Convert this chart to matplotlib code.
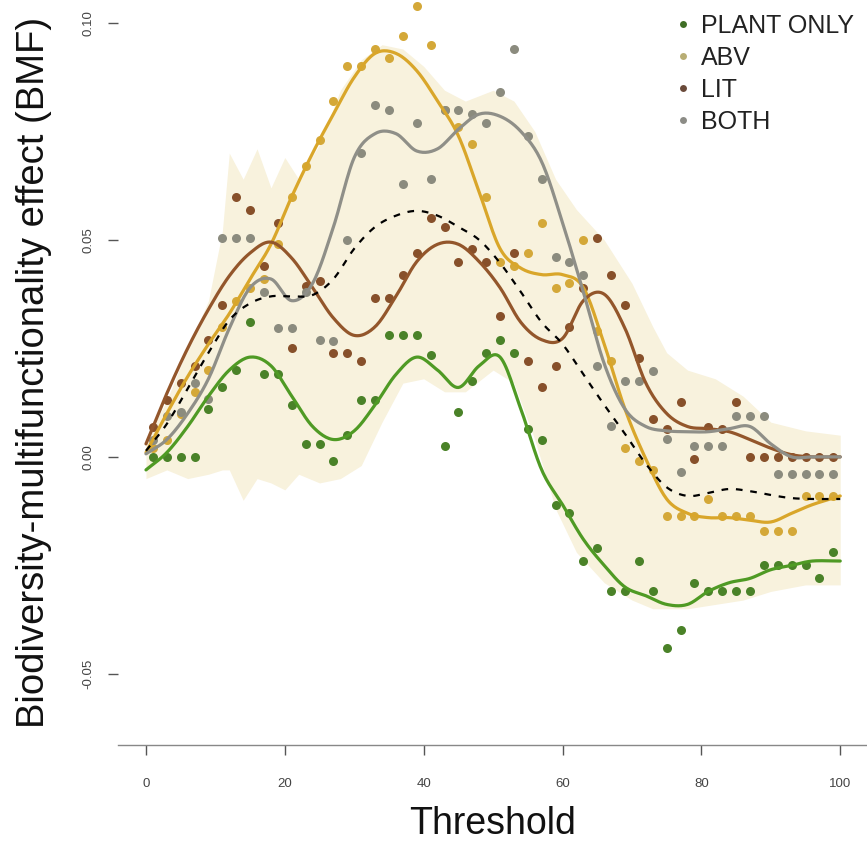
import numpy as np
import matplotlib
matplotlib.use("Agg")
import matplotlib.pyplot as plt
from matplotlib.lines import Line2D

plt.rcParams['font.family'] = ['Liberation Sans', 'DejaVu Sans']

# ---- observed points (threshold 1..99, every 2) ----
thr = np.arange(1, 100, 2)
plant_pts = [0.000, 0.000, 0.000, 0.000, 0.011, 0.016, 0.020, 0.031, 0.019, 0.019,
             0.012, 0.003, 0.003, -0.001, 0.005, 0.013, 0.013, 0.028, 0.028, 0.028,
             0.0235, 0.0025, 0.0104, 0.0174, 0.024, 0.027, 0.024, 0.0065, 0.004, -0.011,
             -0.013, -0.024, -0.021, -0.031, -0.031, -0.024, -0.031, -0.044, -0.040, -0.029,
             -0.031, -0.031, -0.031, -0.031, -0.025, -0.025, -0.025, -0.025, -0.028, -0.022]
abv_pts = [0.002, 0.004, 0.010, 0.015, 0.020, 0.030, 0.036, 0.039, 0.041, 0.049,
           0.060, 0.067, 0.073, 0.082, 0.090, 0.090, 0.094, 0.092, 0.097, 0.104,
           0.095, 0.080, 0.076, 0.072, 0.060, 0.045, 0.044, 0.047, 0.054, 0.039,
           0.040, 0.050, 0.029, 0.022, 0.002, -0.001, -0.003, -0.0137, -0.0137, -0.0137,
           -0.0097, -0.0137, -0.0137, -0.0137, -0.017, -0.017, -0.017, -0.009, -0.009, -0.009]
lit_pts = [0.007, 0.013, 0.017, 0.021, 0.027, 0.035, 0.060, 0.057, 0.044, 0.054,
           0.025, 0.0395, 0.0405, 0.024, 0.024, 0.022, 0.0366, 0.0366, 0.042, 0.047,
           0.055, 0.053, 0.045, 0.048, 0.045, 0.0324, 0.047, 0.022, 0.016, 0.021,
           0.030, 0.039, 0.0505, 0.042, 0.035, 0.0227, 0.0088, 0.0065, 0.0127, -0.0005,
           0.007, 0.0065, 0.0127, 0.000, 0.000, 0.000, 0.000, 0.000, 0.000, 0.000]
both_pts = [0.004, 0.0095, 0.0104, 0.017, 0.0134, 0.0505, 0.0505, 0.0505, 0.038, 0.0296,
            0.0296, 0.038, 0.027, 0.0266, 0.050, 0.070, 0.081, 0.080, 0.063, 0.077,
            0.064, 0.080, 0.080, 0.079, 0.077, 0.084, 0.094, 0.074, 0.064, 0.046,
            0.045, 0.042, 0.021, 0.0072, 0.0174, 0.0174, 0.0197, 0.0042, -0.0035, 0.0025,
            0.0025, 0.0025, 0.0095, 0.0095, 0.0095, -0.004, -0.004, -0.004, -0.004, -0.004]

# ---- fitted curves, read at every 3 units ----
x_fit = list(range(0, 99, 3)) + [100]
plant_fit = [-0.003, 0.001, 0.007, 0.014, 0.020, 0.023, 0.021, 0.014, 0.007, 0.004,
             0.006, 0.012, 0.019, 0.023, 0.020, 0.016, 0.021, 0.023, 0.011, -0.003,
             -0.011, -0.019, -0.025, -0.030, -0.032, -0.034, -0.034, -0.031, -0.029, -0.028,
             -0.026, -0.025, -0.024, -0.024]
abv_fit = [0.001, 0.010, 0.0185, 0.026, 0.033, 0.041, 0.049, 0.060, 0.070, 0.079,
           0.0875, 0.093, 0.093, 0.089, 0.082, 0.074, 0.061, 0.048, 0.0435, 0.042,
           0.042, 0.039, 0.026, 0.011, -0.0005, -0.0097, -0.013, -0.014, -0.014, -0.0146,
           -0.015, -0.013, -0.011, -0.009]
lit_fit = [0.003, 0.0146, 0.025, 0.034, 0.0417, 0.047, 0.0495, 0.0458, 0.039, 0.032,
           0.028, 0.030, 0.037, 0.045, 0.049, 0.049, 0.045, 0.039, 0.031, 0.027,
           0.0273, 0.036, 0.0375, 0.0296, 0.017, 0.010, 0.007, 0.0065, 0.0058, 0.004,
           0.002, 0.0005, 0.000, 0.000]
both_fit = [0.0007, 0.004, 0.010, 0.018, 0.0296, 0.039, 0.041, 0.036, 0.040, 0.053,
            0.069, 0.0745, 0.0745, 0.0705, 0.071, 0.0755, 0.079, 0.0785, 0.075, 0.068,
            0.054, 0.038, 0.0215, 0.011, 0.007, 0.006, 0.0058, 0.0058, 0.0065, 0.007,
            0.003, 0.000, 0.000, 0.000]
mean_fit = [0.0014, 0.0076, 0.0157, 0.024, 0.0315, 0.0354, 0.037, 0.037, 0.0373, 0.041,
            0.048, 0.053, 0.0556, 0.0567, 0.0556, 0.053, 0.050, 0.0447, 0.038, 0.031,
            0.026, 0.019, 0.012, 0.0053, -0.0016, -0.007, -0.009, -0.0083, -0.0074, -0.0079,
            -0.0088, -0.0095, -0.0097, -0.0097]

# ---- shaded envelope ----
band_x = [0, 3, 6, 9, 11, 12, 14, 16, 18, 20, 22, 25, 28, 31, 34, 37, 40, 43, 46, 50,
          53, 56, 59, 62, 66, 70, 73, 75, 78, 82, 86, 90, 95, 100]
band_hi = [0.004, 0.013, 0.025, 0.036, 0.052, 0.070, 0.064, 0.071, 0.062, 0.069,
           0.064, 0.072, 0.0845, 0.0915, 0.095, 0.094, 0.090, 0.0845, 0.082, 0.0845,
           0.082, 0.075, 0.064, 0.057, 0.050, 0.040, 0.030, 0.024, 0.020, 0.018,
           0.014, 0.008, 0.006, 0.005]
band_lo = [-0.005, -0.003, -0.005, -0.004, -0.003, -0.003, -0.010, -0.005, -0.006, -0.0076,
           -0.004, -0.006, -0.005, -0.002, 0.008, 0.017, 0.018, 0.015, 0.015, 0.020,
           0.017, 0.004, -0.012, -0.022, -0.029, -0.033, -0.035, -0.035, -0.035, -0.034,
           -0.033, -0.031, -0.0295, -0.0295]

labels = ["PLANT ONLY", "ABV", "LIT", "BOTH"]
pt_cols = ["#4a8228", "#d4a838", "#87502a", "#8b8b7e"]
ln_cols = ["#4f9a24", "#d9a62a", "#93562b", "#8f8f88"]
leg_cols = ["#3f6e25", "#b8ad74", "#6a4a3a", "#8c8c86"]


def catmull(x, y, n=14):
    # smooth path through the read curve values (drawing only)
    P = np.column_stack([x, y]).astype(float)
    P = np.vstack([2 * P[0] - P[1], P, 2 * P[-1] - P[-2]])
    t = np.linspace(0, 1, n, endpoint=False)[:, None]
    out = []
    for i in range(1, len(P) - 2):
        p0, p1, p2, p3 = P[i - 1], P[i], P[i + 1], P[i + 2]
        out.append(0.5 * (2 * p1 + (-p0 + p2) * t + (2 * p0 - 5 * p1 + 4 * p2 - p3) * t ** 2
                          + (-p0 + 3 * p1 - 3 * p2 + p3) * t ** 3))
    out.append(P[-2][None, :])
    out = np.vstack(out)
    return out[:, 0], out[:, 1]


fig = plt.figure(figsize=(8.67, 8.46), dpi=100, facecolor="white")
ax = fig.add_axes([118 / 867, 1 - 745 / 846, 750 / 867, 745 / 846])

ax.fill_between(band_x, band_lo, band_hi, color="#f8f2dd", lw=0, zorder=0)

for pts, c in zip([plant_pts, abv_pts, lit_pts, both_pts], pt_cols):
    ax.plot(thr, pts, ls="none", marker="o", ms=6.5, color=c, mec="none", zorder=2)

for fit, c in zip([plant_fit, abv_fit, lit_fit, both_fit], ln_cols):
    xs, ys = catmull(x_fit, fit)
    ax.plot(xs, ys, color=c, lw=2.3, zorder=3, solid_capstyle="round")

xs, ys = catmull(x_fit, mean_fit)
ax.plot(xs, ys, color="black", lw=1.6, dashes=(3, 3.5), zorder=4)

ax.set_xlim(-4.03, 104.0)
ax.set_ylim(-0.0664, 0.1053)
for s in ["left", "top", "right"]:
    ax.spines[s].set_visible(False)
ax.spines["bottom"].set_color("#888888")
ax.spines["bottom"].set_linewidth(1.0)

ax.set_xticks([0, 20, 40, 60, 80, 100])
ax.set_yticks([-0.05, 0.0, 0.05, 0.10])
ax.set_yticklabels(["-0.05", "0.00", "0.05", "0.10"], rotation=90, va="center")
ax.tick_params(axis="both", direction="out", length=7, width=1, colors="#555555",
               labelsize=9.5, labelcolor="#444444")
ax.tick_params(axis="x", pad=17)
ax.tick_params(axis="y", pad=10)

ax.set_xlabel("Threshold", fontsize=27, color="#111111", labelpad=11)
ax.set_ylabel("Biodiversity-multifunctionality effect (BMF)", fontsize=27.5,
              color="#111111", labelpad=22)

handles = [Line2D([], [], ls="none", marker="o", ms=5, color=c, mec="none") for c in leg_cols]
ax.legend(handles, labels, loc="upper right", bbox_to_anchor=(1.0, 1.0), frameon=False,
          fontsize=18, handlelength=0.6, handletextpad=0.45, labelspacing=0.32,
          borderaxespad=0.15, labelcolor="#222222")

fig.savefig("out.png", dpi=100, facecolor="white")
